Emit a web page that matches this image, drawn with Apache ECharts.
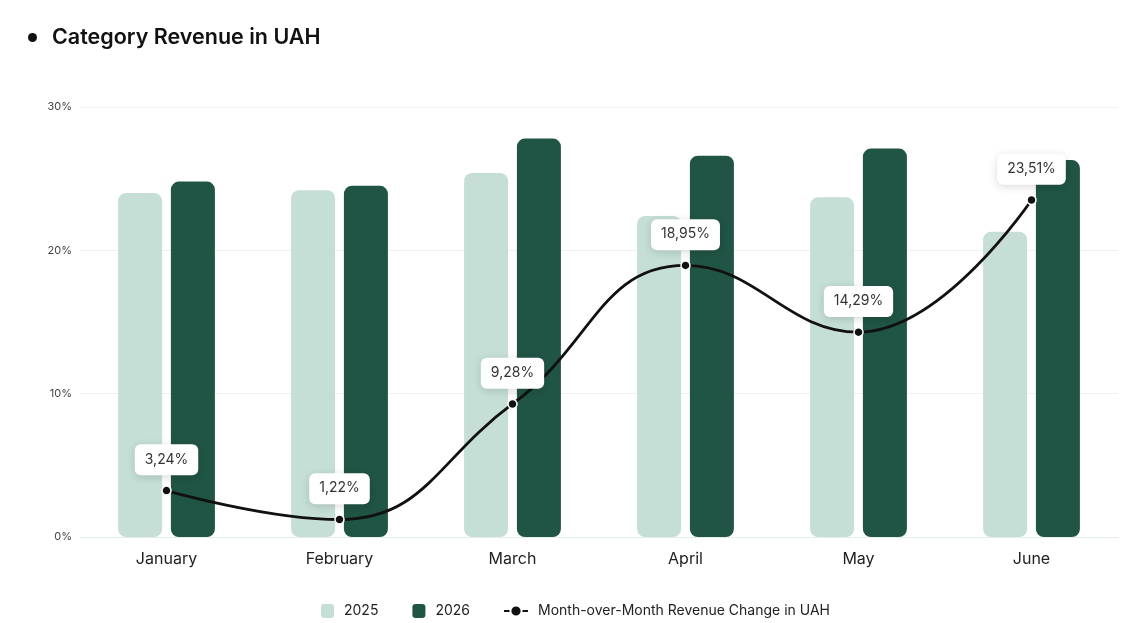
<!DOCTYPE html>
<html>
<head>
<meta charset="utf-8">
<script src="https://cdn.jsdelivr.net/npm/echarts@6/dist/echarts.min.js"></script>
<style>
  html, body { margin: 0; padding: 0; background: #fff; }
  #chart { width: 1148px; height: 623px; }
</style>
</head>
<body>
<div id="chart"></div>
<script>
// данные графика
const months = ['January', 'February', 'March', 'April', 'May', 'June'];
const revenue2025 = [24.0, 24.2, 25.4, 22.4, 23.7, 21.3];
const revenue2026 = [24.8, 24.5, 27.8, 26.6, 27.1, 26.3];
const momChange = [3.24, 1.22, 9.28, 18.95, 14.29, 23.51];
const yTicks = [0, 10, 20, 30];

const lineName = 'Month-over-Month Revenue Change in UAH';

const chart = echarts.init(document.getElementById('chart'));

const fontMain = 'Inter, "Open Sans", sans-serif';

const legendText = {
  fontFamily: fontMain,
  fontSize: 14,
  color: '#222',
  padding: [0, 0, 0, 5]
};

const option = {
  backgroundColor: '#ffffff',
  animation: false,
  title: {
    text: 'Category Revenue in UAH',
    left: 47,
    top: 22,
    textStyle: {
      fontFamily: fontMain,
      fontSize: 21.5,
      fontWeight: 600,
      color: '#111'
    }
  },
  graphic: [{
    type: 'circle',
    left: 28,
    top: 33,
    shape: { r: 4.5 },
    style: { fill: '#111' }
  }],
  grid: {
    left: 80,
    right: 30,
    top: 107,
    bottom: 86
  },
  // две легенды: у столбцов и линии разная ширина значка
  legend: [
    {
      top: 599,
      left: 316,
      itemGap: 34,
      itemWidth: 13,
      itemHeight: 14,
      textStyle: legendText,
      data: [
        { name: '2025', icon: 'roundRect' },
        { name: '2026', icon: 'roundRect' }
      ]
    },
    {
      top: 599,
      left: 498,
      itemWidth: 24,
      itemHeight: 14,
      textStyle: legendText,
      data: [lineName]
    }
  ],
  xAxis: {
    type: 'category',
    data: months,
    axisLine: { lineStyle: { color: '#e3eee8', width: 1 } },
    axisTick: { show: false },
    axisLabel: {
      margin: 14,
      fontFamily: fontMain,
      fontSize: 16,
      color: '#222'
    }
  },
  yAxis: {
    type: 'value',
    min: 0,
    max: yTicks[yTicks.length - 1],
    interval: 10,
    axisLine: { show: false },
    axisTick: { show: false },
    splitLine: { lineStyle: { color: '#eef1f0', width: 1 } },
    axisLabel: {
      margin: 8,
      fontFamily: fontMain,
      fontSize: 11,
      color: '#444',
      formatter: v => v + '%'
    }
  },
  series: [
    {
      name: '2025',
      type: 'bar',
      data: revenue2025,
      barWidth: 44,
      barGap: '20%',
      itemStyle: { color: '#c5dfd6', borderRadius: 8 }
    },
    {
      name: '2026',
      type: 'bar',
      data: revenue2026,
      barWidth: 44,
      itemStyle: { color: '#205444', borderRadius: 8 }
    },
    {
      name: lineName,
      type: 'line',
      data: momChange,
      smooth: 0.45,
      z: 5,
      symbol: 'circle',
      symbolSize: 9,
      lineStyle: { color: '#111', width: 2.8 },
      itemStyle: { color: '#111', borderColor: '#fff', borderWidth: 1.5 },
      label: {
        show: true,
        position: 'top',
        distance: 10,
        formatter: p => p.value.toFixed(2).replace('.', ',') + '%',
        fontFamily: fontMain,
        fontSize: 14,
        color: '#333',
        backgroundColor: '#fff',
        borderRadius: 6,
        padding: [8, 10, 9, 10],
        shadowColor: 'rgba(0,0,0,0.15)',
        shadowBlur: 8,
        shadowOffsetY: 2
      }
    }
  ]
};

chart.setOption(option);
</script>
</body>
</html>
